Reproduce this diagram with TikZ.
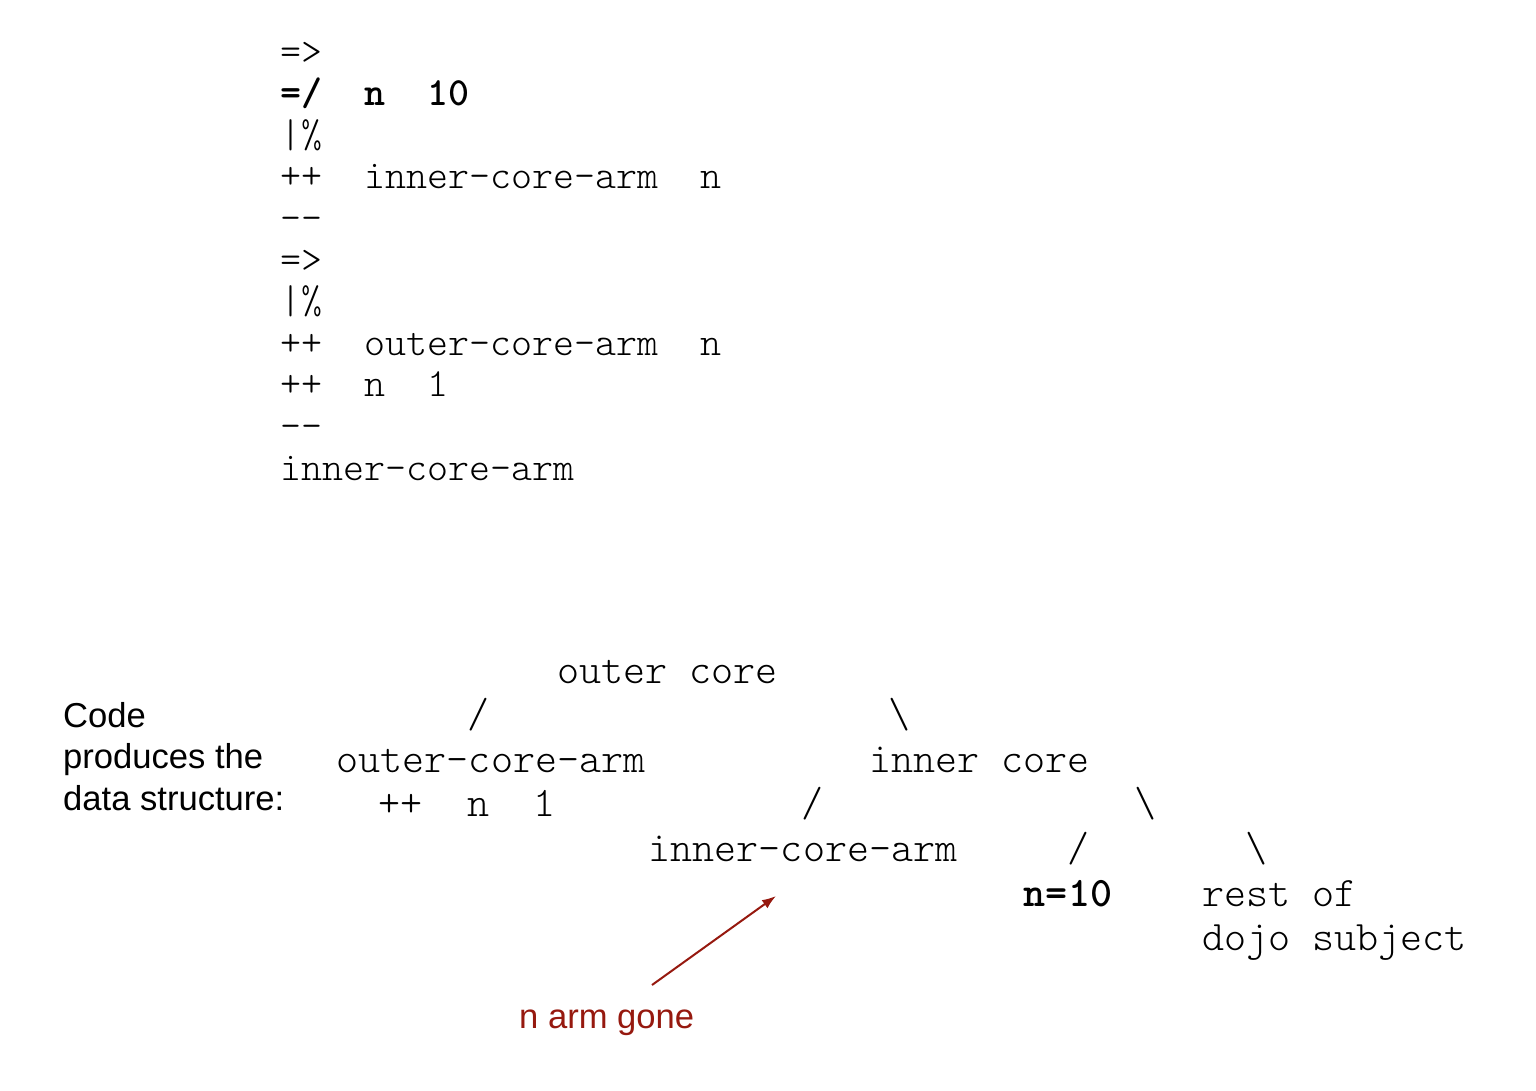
\documentclass[tikz,border=0pt]{standalone}
\usepackage{fontspec}
\setsansfont{Liberation Sans}
\setmonofont{Latin Modern Mono Light}
\usepackage[]{xcolor}
\usetikzlibrary{positioning, arrows.meta}
\definecolor{gonered}{RGB}{150,25,15}

\begin{document}
\begin{tikzpicture}[x=1pt,y=-1pt,
% Text styles
    code/.style={anchor=base west,inner sep=0pt,
		font=\fontsize{40}{41.6}\selectfont\ttfamily},
    line/.style={code,below=of #1.base west,anchor=base west},
    tree/.style={anchor=base,inner sep=0pt,
		font=\fontsize{42}{44.6}\selectfont\ttfamily},
    note/.style={anchor=base west,inner sep=0pt,
		font=\fontsize{34.6}{41.5}\selectfont\sffamily},
    hint/.style={note,text=gonered},
% Arrow style
    pointer/.style={draw=gonered,line width=2pt,
		-{Latex[length=14pt,width=10pt]}},
    node distance=41.6pt
    ]
    \useasboundingbox (0,0) rectangle (1536,1090);
%% Code lines
    \node (c1)  [code] at (280,64)	{=>};
    \node (c2)  [line=c1]	{\bfseries =/~~n~~10};
    \node (c3)  [line=c2]	{|\%};
    \node (c4)  [line=c3]	{++~~inner-core-arm~~n};
    \node (c5)  [line=c4]	{-{}-};
    \node (c6)  [line=c5]	{=>};
    \node (c7)  [line=c6]	{|\%};
    \node (c8)  [line=c7]	{++~~outer-core-arm~~n};
    \node (c9)  [line=c8]	{++~~n~~1};
    \node (c10) [line=c9]	{-{}-};
    \node (c11) [line=c10]	{inner-core-arm};
%% Caption
    \node (n1) [note] at (63,727)	{Code};
    \node (n2) [note] at (63,768.5)	{produces the};
    \node (n3) [note] at (63,810)	{data structure:};
%% Data structure
    \node (ocore) [tree] at (667.5,683)	{outer~core};
    \node (ol)    [tree] at (479,727.6)	{/};
    \node (or)    [tree] at (900,727.6)	{\textbackslash};
    \node (oarm)  [tree] at (491,772.2)	{outer-core-arm};
    \node (icore) [tree] at (979.5,772.2)	{inner~core};
    \node (inc)   [tree] at (467,816.8)	{++~~n~~1};
    \node (il)    [tree] at (813,816.8)	{/};
    \node (ir)    [tree] at (1146,816.8)	{\textbackslash};
    \node (iarm)  [tree] at (803,861.4)	{inner-core-arm};
    \node (nl)    [tree] at (1079,861.4)	{/};
    \node (nr)    [tree] at (1257,861.4)	{\textbackslash};
    \node (nten)  [tree] at (1068,906)	{\bfseries n=10};
    \node (rest)  [tree,anchor=base west] at (1202,906)	{rest~of};
    \node (dojo)  [tree,anchor=base west] at (1202,950.6)	{dojo~subject};
%% Remark with its arrow
    \node (gone) [hint] at (519,1028)	{n arm gone};
    \coordinate (tail) at (652,985);
    \coordinate (tip)  at (776,896);
    \draw [pointer] (tail) -- (tip);
\end{tikzpicture}
\end{document}
